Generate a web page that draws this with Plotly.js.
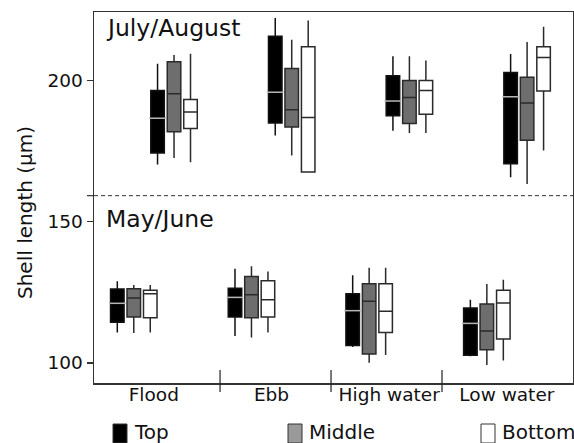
<!DOCTYPE html>
<html>
<head>
<meta charset="utf-8">
<script src="https://cdn.plot.ly/plotly-3.0.1.min.js"></script>
<style>html,body{margin:0;padding:0;background:#fff;}#chart{width:574px;height:443px;}</style>
</head>
<body>
<div id="chart"></div>
<script>
// ---- data ----
const categories = ['Flood', 'Ebb', 'High water', 'Low water'];
const periods = ['May/June', 'July/August'];
const seriesNames = ['Top', 'Middle', 'Bottom'];
const yTitle = 'Shell length (µm)';
// order: May/June (Flood, Ebb, High water, Low water), then July/August (same order)
const topLow  = [110.8, 109.5, 105.6, 102.4, 170.2, 180.5, 182.2, 165.7];
const topQ1   = [114.4, 116.3, 106.2, 102.7, 174.3, 184.9, 187.5, 170.5];
const topMed  = [121.1, 123.2, 118.5, 114.0, 186.6, 195.8, 192.7, 194.2];
const topQ3   = [126.2, 126.4, 124.5, 119.4, 196.4, 215.6, 201.6, 202.8];
const topHigh = [128.9, 133.3, 131.0, 122.4, 205.9, 222.1, 208.5, 209.3];

const midLow  = [110.6, 109.0, 100.1, 99.3, 172.5, 173.4, 181.4, 163.3];
const midQ1   = [116.3, 116.0, 103.2, 104.7, 181.8, 183.5, 184.7, 178.8];
const midMed  = [123.0, 124.1, 121.8, 111.3, 195.3, 189.6, 193.9, 192.0];
const midQ3   = [126.3, 130.6, 128.0, 120.9, 206.6, 204.2, 200.0, 201.1];
const midHigh = [127.6, 134.2, 133.7, 127.9, 209.0, 214.4, 208.5, 213.6];

const botLow  = [110.8, 110.8, 102.8, 100.9, 171.0, 167.6, 181.4, 175.2];
const botQ1   = [116.0, 116.3, 110.8, 108.5, 183.0, 167.6, 188.0, 196.2];
const botMed  = [124.5, 122.4, 118.3, 121.2, 188.8, 186.9, 196.4, 208.1];
const botQ3   = [125.7, 129.1, 128.0, 125.7, 193.2, 211.9, 200.0, 211.9];
const botHigh = [127.6, 132.4, 133.7, 129.4, 209.4, 221.2, 207.0, 219.0];

const yTicks = [100, 150, 200];
const periodBoundary = 159.2;

// ---- layout helpers ----
const W = 574, H = 443, ML = 94, MR = 1, MT = 12, MB = 60;
const PW = W - ML - MR, PH = H - MT - MB;
const px = x => (x - ML) / PW;
const py = y => (H - MB - y) / PH;
const FONT = 'DejaVu Sans, Arial, sans-serif';

const periodOffset = [-0.17, 0.172];
const seriesOffset = 0.14;
function xPositions(s) {
  const xs = [];
  for (let p = 0; p < periods.length; p++)
    for (let c = 0; c < categories.length; c++)
      xs.push(c + periodOffset[p] + (s - 1) * seriesOffset);
  return xs;
}

const stats = [
  [topLow, topQ1, topMed, topQ3, topHigh],
  [midLow, midQ1, midMed, midQ3, midHigh],
  [botLow, botQ1, botMed, botQ3, botHigh]
];
const fills = ['#000000', '#6e6e6e', '#ffffff'];
const lines = ['#111111', '#2a2a2a', '#2a2a2a'];

const traces = stats.map((st, s) => ({
  type: 'box',
  name: seriesNames[s],
  x: xPositions(s),
  lowerfence: st[0], q1: st[1], median: st[2], q3: st[3], upperfence: st[4],
  fillcolor: fills[s],
  line: {color: lines[s], width: 1.5},
  width: 0.115,
  whiskerwidth: 0,
  boxpoints: false,
  hoverinfo: 'skip',
  showlegend: false
}));
// light median line inside the black boxes
traces.push({
  type: 'scatter', mode: 'markers',
  x: xPositions(0), y: topMed,
  marker: {symbol: 'line-ew', size: 12, line: {width: 1.5, color: '#b5b5b5'}},
  hoverinfo: 'skip', showlegend: false
});

const shapes = [
  {type: 'line', xref: 'paper', yref: 'y', x0: 0, x1: 1, y0: periodBoundary, y1: periodBoundary,
   line: {color: '#333', width: 1, dash: '4px,3px'}},
  {type: 'line', xref: 'paper', yref: 'y', x0: px(87), x1: 0, y0: periodBoundary, y1: periodBoundary,
   line: {color: '#333', width: 1.2}}
];
[0.563, 1.506, 2.449].forEach(d => shapes.push({
  type: 'line', xref: 'x', yref: 'paper', x0: d, x1: d, y0: py(370), y1: py(392),
  line: {color: '#222', width: 1.2}
}));

const legendX = [113, 288, 481];
const legendFill = ['#000000', '#9a9a9a', '#ffffff'];
const annotations = [
  {text: periods[1], xref: 'paper', yref: 'paper', x: px(104), y: py(28), xanchor: 'left', yanchor: 'middle',
   showarrow: false, font: {family: FONT, size: 23.5, color: '#111'}},
  {text: periods[0], xref: 'paper', yref: 'paper', x: px(104), y: py(218.5), xanchor: 'left', yanchor: 'middle',
   showarrow: false, font: {family: FONT, size: 23.5, color: '#111'}},
  {text: yTitle, xref: 'paper', yref: 'paper', x: px(25), y: py(213), xanchor: 'center', yanchor: 'middle',
   textangle: -90, showarrow: false, font: {family: FONT, size: 20, color: '#111'}}
];
seriesNames.forEach((n, i) => {
  shapes.push({type: 'rect', xref: 'paper', yref: 'paper',
    x0: px(legendX[i]), x1: px(legendX[i] + 14), y0: py(424), y1: py(443),
    fillcolor: legendFill[i], line: {color: '#333', width: 1}});
  annotations.push({text: n, xref: 'paper', yref: 'paper', x: px(legendX[i] + 19), y: py(432),
    xanchor: 'left', yanchor: 'middle', showarrow: false,
    font: {family: FONT, size: 20, color: '#111'}});
});

const layout = {
  width: W, height: H,
  margin: {l: ML, r: MR, t: MT, b: MB, pad: 0},
  paper_bgcolor: '#fff', plot_bgcolor: '#fff',
  font: {family: FONT, color: '#111'},
  showlegend: false,
  boxmode: 'overlay',
  xaxis: {
    range: [-0.508, 3.562], tickvals: [0, 1, 2, 3], ticktext: categories,
    showgrid: false, zeroline: false, showline: true, mirror: true,
    linecolor: '#333', linewidth: 1.5, ticks: '', ticklabelstandoff: -6,
    tickfont: {family: FONT, size: 18.5, color: '#111'}, fixedrange: true
  },
  yaxis: {
    range: [92.9, 224.2], tickvals: yTicks, ticktext: yTicks.map(String),
    showgrid: false, zeroline: false, showline: true, mirror: true,
    linecolor: '#333', linewidth: 1.5, ticks: 'outside', ticklen: 6, tickwidth: 1.2, tickcolor: '#333',
    tickfont: {family: FONT, size: 18.5, color: '#111'},
    fixedrange: true
  },
  shapes: shapes,
  annotations: annotations
};

Plotly.newPlot('chart', traces, layout, {displayModeBar: false, staticPlot: true});
</script>
</body>
</html>
